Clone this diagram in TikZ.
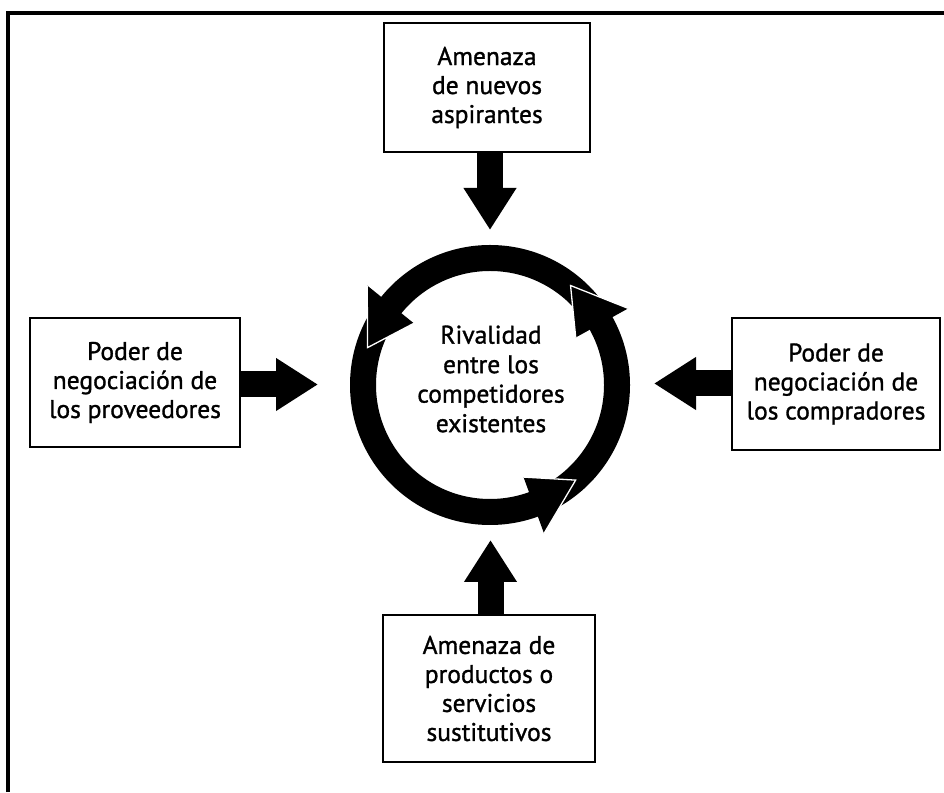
\documentclass[tikz,border=0pt]{standalone}
\usepackage{fontspec}
\setmainfont{PT Sans}[RawFeature={embolden=1.2}]
\usetikzlibrary{arrows.meta}
\begin{document}
\begin{tikzpicture}[x=1pt,y=1pt,
  forcebox/.style={draw, line width=2.4pt, align=center, inner sep=0pt,
    font=\fontsize{25.5}{29}\selectfont},
  blockarrow/.style={line width=26pt, -{Triangle[length=42pt,width=50pt]}},
  ringhead/.style={fill=black},
  gapline/.style={draw=white, line width=1.3pt},
  ringstyle/.style={circle, draw, line width=26pt, minimum size=254pt, inner sep=0pt},
  centertext/.style={align=center, font=\fontsize{25.5}{29.5}\selectfont}]
\useasboundingbox (0,0) rectangle (944,792);
% outer frame (top and left edges visible)
\draw[line width=3.5pt] (8,0) -- (8,779) -- (944,779);
% boxes
\node[forcebox, minimum width=206pt, minimum height=129pt] (top) at (487,704.5)
  {Amenaza\\de nuevos\\aspirantes};
\node[forcebox, minimum width=212pt, minimum height=147pt] (bot) at (489,103.5)
  {Amenaza de\\productos o\\servicios\\sustitutivos};
\node[forcebox, minimum width=210pt, minimum height=129pt] (left) at (135,409.5)
  {Poder de\\negociación de\\los proveedores};
\node[forcebox, minimum width=208pt, minimum height=132pt] (right) at (836,408)
  {Poder de\\negociación de\\los compradores};
% ring
\node[ringstyle] (ring) at (490,407) {};
\node[centertext] (rival) at (491,413) {Rivalidad\\entre los\\competidores\\existentes};
% ring arrowheads
\fill[ringhead, shift={(ring.center)}] (141:98) -- (141:158) -- (163:128) -- cycle;
\draw[gapline, shift={(ring.center)}] (141:158) -- (163:128) -- (141:98);
\fill[ringhead, shift={(ring.center)}] (29:98) -- (29:158) -- (51:128) -- cycle;
\draw[gapline, shift={(ring.center)}] (29:158) -- (51:128) -- (29:98);
\fill[ringhead, shift={(ring.center)}] (-70:98) -- (-70:158) -- (-48:128) -- cycle;
\draw[gapline, shift={(ring.center)}] (-70:158) -- (-48:128) -- (-70:98);
% block arrows
\coordinate (ttip) at (490,562);
\coordinate (btip) at (490.5,252);
\coordinate (ltip) at (318,407.5);
\coordinate (rtip) at (654,408.5);
\draw[blockarrow] (ttip |- top.south) -- (ttip);
\draw[blockarrow] (btip |- bot.north) -- (btip);
\draw[blockarrow] (left.east |- ltip) -- (ltip);
\draw[blockarrow] (right.west |- rtip) -- (rtip);
\end{tikzpicture}
\end{document}
